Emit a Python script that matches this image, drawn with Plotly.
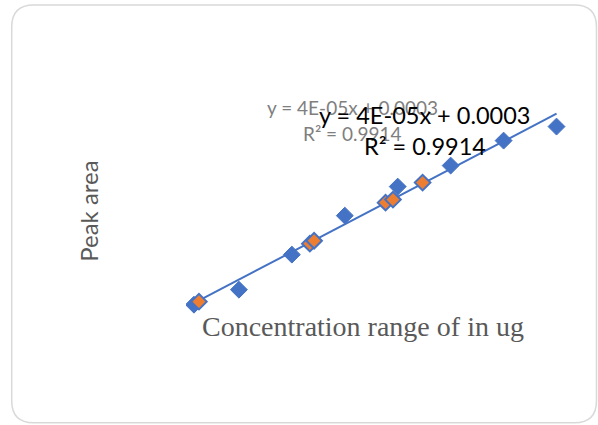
import plotly.graph_objects as go
import numpy as np

# ---- data ----
conc_a = [1.5, 10, 20, 30, 40, 50, 60, 70]
area_a = [0.000337, 0.000554, 0.001061, 0.001625, 0.002045, 0.002349, 0.002710, 0.002913]
conc_b = [2.45, 23.4, 24.2, 37.7, 39.1, 44.7]
area_b = [0.000381, 0.001220, 0.001263, 0.001813, 0.001857, 0.002103]
slope = 4e-05
intercept = 0.0003
eq_text = "y = 4E-05x + 0.0003"
r2_text = "R² = 0.9914"
x_title = "Concentration range of in ug"
y_title = "Peak area"

W, H = 598, 425
L, T, PW, PH = 186.0, 86.4, 397.5, 241.9
B = T + PH


def px(x):
    return (x - L) / PW


def py(y):
    return (B - y) / PH


fig = go.Figure()

tx = np.array([min(conc_a), max(conc_a)])
fig.add_trace(go.Scatter(x=tx, y=slope * tx + intercept, mode="lines",
                         line=dict(color="#4472C4", width=2), hoverinfo="skip"))
fig.add_trace(go.Scatter(x=conc_a, y=area_a, mode="markers",
                         marker=dict(symbol="diamond", size=13, color="#4472C4",
                                     line=dict(color="#4472C4", width=1))))
fig.add_trace(go.Scatter(x=conc_b, y=area_b, mode="markers",
                         marker=dict(symbol="diamond", size=12, color="#ED7D31",
                                     line=dict(color="#4472C4", width=2))))

# card outline (rounded rectangle) in pixel -> paper coordinates
x0, y0, x1, y1, r = 11.5, 5.5, 597.0, 423.0, 22
path = (f"M {px(x0 + r)} {py(y0)} L {px(x1 - r)} {py(y0)} "
        f"Q {px(x1)} {py(y0)} {px(x1)} {py(y0 + r)} "
        f"L {px(x1)} {py(y1 - r)} Q {px(x1)} {py(y1)} {px(x1 - r)} {py(y1)} "
        f"L {px(x0 + r)} {py(y1)} Q {px(x0)} {py(y1)} {px(x0)} {py(y1 - r)} "
        f"L {px(x0)} {py(y0 + r)} Q {px(x0)} {py(y0)} {px(x0 + r)} {py(y0)} Z")
fig.add_shape(type="path", path=path, xref="paper", yref="paper",
              line=dict(color="#D9D9D9", width=1.5), layer="below")


def label(text, cx, cy, size, color, family="Lato", angle=0):
    return dict(text=text, x=px(cx), y=py(cy), xref="paper", yref="paper",
                xanchor="center", yanchor="middle", showarrow=False, textangle=angle,
                font=dict(family=family, size=size, color=color))


ann = [
    label(eq_text, 353, 108, 19, "#7F7F7F"),
    label(r2_text, 353, 134, 19, "#7F7F7F"),
    label(eq_text, 425, 115, 23.5, "#000000"),
    label(r2_text, 425, 146, 23.5, "#000000"),
    label(x_title, 363, 327, 28, "#595959", family="Liberation Serif"),
    label(y_title, 89, 211, 24, "#595959", angle=-90),
]

fig.update_layout(
    width=W, height=H,
    margin=dict(l=L, r=W - L - PW, t=T, b=H - B, pad=0),
    paper_bgcolor="white", plot_bgcolor="white",
    showlegend=False, annotations=ann,
    xaxis=dict(range=[0, 75], visible=False),
    yaxis=dict(range=[0, 0.0035], visible=False),
)

fig.write_html("out.html", config={"displayModeBar": False},
               post_script="document.body.style.margin='0px';")
